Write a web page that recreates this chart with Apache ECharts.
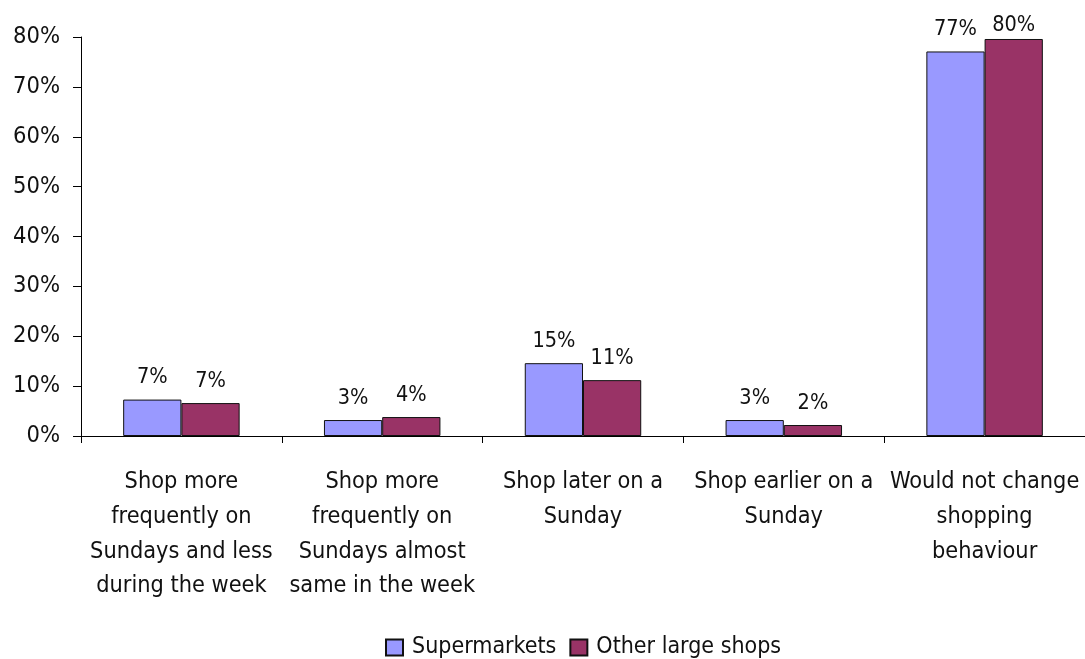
<!DOCTYPE html>
<html>
<head>
<meta charset="utf-8">
<script src="https://cdn.jsdelivr.net/npm/echarts@6/dist/echarts.min.js"></script>
<style>
  html, body { margin: 0; padding: 0; background: #fff; }
  #chart { width: 1085px; height: 659px; }
</style>
</head>
<body>
<div id="chart"></div>
<script>
const categories = [
  'Shop more\nfrequently on\nSundays and less\nduring the week',
  'Shop more\nfrequently on\nSundays almost\nsame in the week',
  'Shop later on a\nSunday',
  'Shop earlier on a\nSunday',
  'Would not change\nshopping\nbehaviour'
];
const supermarkets = [7.3, 3.2, 14.6, 3.2, 77.1];
const otherLargeShops = [6.6, 3.8, 11.2, 2.2, 79.6];
const yTicks = [0, 10, 20, 30, 40, 50, 60, 70, 80];

const FONT = '"Liberation Sans Narrow", "Arial Narrow", "DejaVu Sans Condensed", sans-serif';

const chart = echarts.init(document.getElementById('chart'), null, { renderer: 'canvas' });

const labelStyle = {
  show: true,
  position: 'top',
  distance: 11,
  fontFamily: FONT,
  fontSize: 21.5,
  color: '#111',
  formatter: p => Math.round(p.value) + '%'
};

// keep value labels from running off the top edge of the canvas
const keepLabelInside = p => {
  const r = p.labelRect;
  if (r.y >= 10) return {};
  return { x: r.x + r.width / 2, y: 36, align: 'center', verticalAlign: 'bottom' };
};

chart.setOption({
  animation: false,
  backgroundColor: '#fff',
  textStyle: { fontFamily: FONT },
  grid: { left: 81, right: 0, top: 37, bottom: 223, containLabel: false },
  legend: {
    top: 631,
    left: 380,
    itemWidth: 17,
    itemHeight: 16,
    itemGap: 13,
    icon: 'rect',
    textStyle: { fontFamily: FONT, fontSize: 23, color: '#111', padding: [0, 0, 0, 4] },
    data: ['Supermarkets', 'Other large shops']
  },
  xAxis: {
    type: 'category',
    data: categories,
    axisLine: { lineStyle: { color: '#000', width: 1 } },
    axisTick: { show: true, alignWithLabel: false, length: 7, lineStyle: { color: '#000' } },
    axisLabel: {
      interval: 0,
      margin: 29,
      fontFamily: FONT,
      fontSize: 23.3,
      lineHeight: 34.6,
      color: '#111',
      align: 'center'
    }
  },
  yAxis: {
    type: 'value',
    min: yTicks[0],
    max: yTicks[yTicks.length - 1],
    interval: 10,
    splitLine: { show: false },
    axisLine: { show: true, lineStyle: { color: '#000', width: 1 } },
    axisTick: { show: true, length: 8, lineStyle: { color: '#000' } },
    axisLabel: {
      margin: 21,
      fontFamily: FONT,
      fontSize: 23.5,
      color: '#111',
      padding: [6, 0, 0, 0],
      formatter: v => v + '%'
    }
  },
  series: [
    {
      name: 'Supermarkets',
      type: 'bar',
      data: supermarkets,
      barGap: '0%',
      barCategoryGap: '42%',
      itemStyle: { color: '#9999FF', borderColor: '#111', borderWidth: 1 },
      label: labelStyle,
      labelLayout: keepLabelInside
    },
    {
      name: 'Other large shops',
      type: 'bar',
      data: otherLargeShops,
      barGap: '0%',
      barCategoryGap: '42%',
      itemStyle: { color: '#993366', borderColor: '#111', borderWidth: 1 },
      label: labelStyle,
      labelLayout: keepLabelInside
    }
  ]
});
</script>
</body>
</html>
